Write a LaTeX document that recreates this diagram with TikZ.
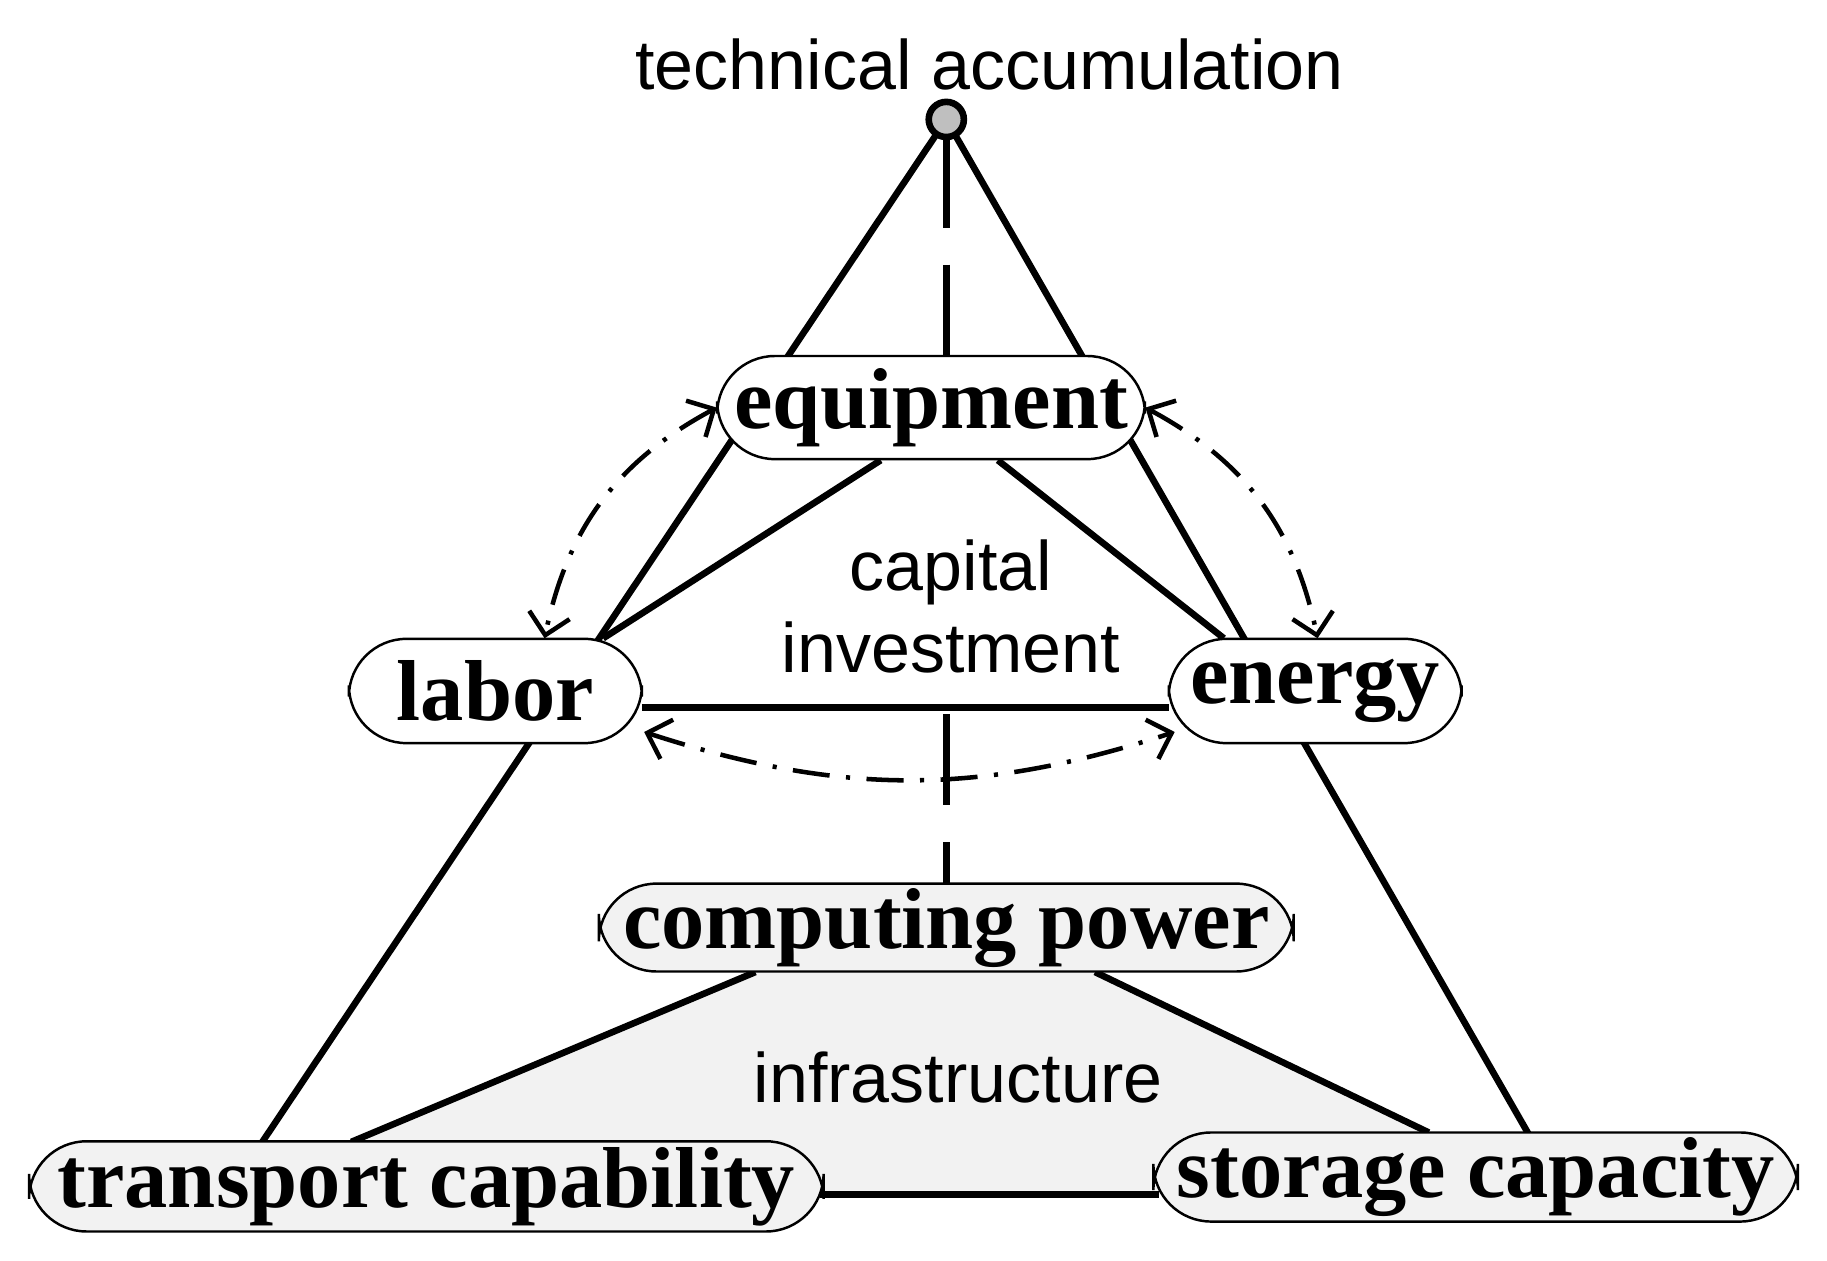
\documentclass[tikz,border=0pt]{standalone}
\usepackage{fontspec}
\setmainfont{Liberation Serif}
\newfontfamily\lblfont{Liberation Sans}
\usetikzlibrary{arrows.meta}
\begin{document}
\begin{tikzpicture}[x=0.01cm,y=-0.01cm,
  box/.style={draw,line width=0.6pt,rounded corners=14pt,fill=white,inner sep=0pt,font=\bfseries\fontsize{21}{24}\selectfont},
  gbox/.style={box,fill=gray!10},
  edge/.style={line width=1.6pt},
  dd/.style={line width=1.1pt,dash pattern=on 9pt off 4pt on 1pt off 4pt,{Straight Barb[length=5pt,width=10pt]}-{Straight Barb[length=5pt,width=10pt]}},
  lbl/.style={font=\lblfont\fontsize{17}{20}\selectfont,align=center}]
\useasboundingbox (0,0) rectangle (1560,1076);
% outer triangle
\coordinate (A) at (808,102);
\coordinate (BL) at (222,978);
\coordinate (BR) at (1305,968);
\draw[edge] (A) -- (BL);
\draw[edge] (A) -- (BR);
% infrastructure fill
\fill[gray!10] (645,830) -- (300,975) -- (300,1020) -- (1220,1020) -- (1220,967) -- (935,830) -- cycle;
\draw[edge] (645,830) -- (300,975);
\draw[edge] (935,830) -- (1220,967);
\draw[edge] (700,1020) -- (990,1020);
% inner triangle
\draw[edge] (752,393) -- (515,545);
\draw[edge] (852,393) -- (1045,545);
\draw[edge] (548,604) -- (998,604);
% dashed vertical
\draw[edge,dash pattern=on 22pt off 9pt] (808,117) -- (808,305);
\draw[edge,dash pattern=on 22pt off 9pt] (808,610) -- (808,755);
% nodes
\node[box,minimum width=3.65cm,minimum height=0.88cm] (eq) at (795,348) {equipment};
\node[box,minimum width=2.5cm,minimum height=0.89cm] (lab) at (423,590) {labor};
\node[box,minimum width=2.5cm,minimum height=0.89cm] (en) at (1123,590) {energy};
\node[gbox,minimum width=5.93cm,minimum height=0.75cm] (cp) at (808,792) {computing power};
\node[gbox,minimum width=6.78cm,minimum height=0.77cm] (tc) at (364,1013) {transport capability};
\node[gbox,minimum width=5.5cm,minimum height=0.76cm] (sc) at (1260,1005) {storage capacity};
\node[circle,draw,line width=1.6pt,fill=gray!50,minimum size=0.3cm,inner sep=0pt] (top) at (808,102) {};
% labels
\node[lbl] (tech) at (845,55) {technical accumulation};
\node[lbl] (cap) at (812,518) {capital\\investment};
\node[lbl] (inf) at (818,920) {infrastructure};
% dash-dot arrows
\draw[dd] (612,348) to[bend right=25] (465,545);
\draw[dd] (978,348) to[bend left=25] (1125,545);
\draw[dd] (550,625) to[bend right=18] (1003,625);
\end{tikzpicture}
\end{document}
